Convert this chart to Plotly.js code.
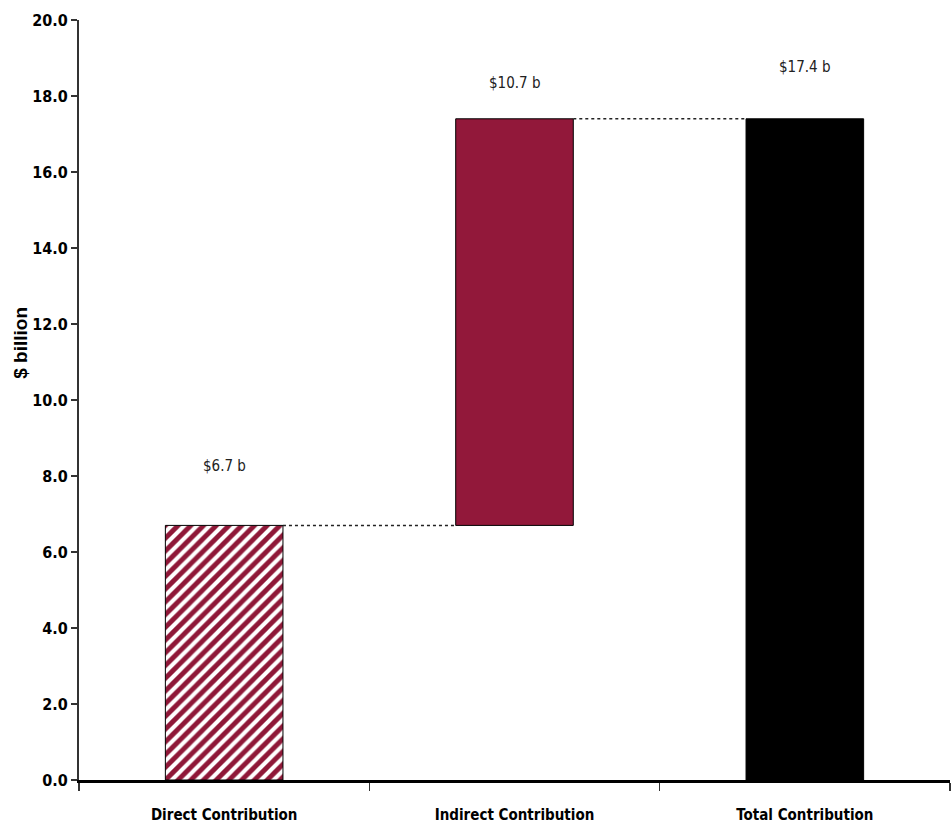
<!DOCTYPE html>
<html>
<head>
<meta charset="utf-8">
<script src="https://cdn.plot.ly/plotly-3.0.1.min.js"></script>
<style>
  html, body { margin: 0; padding: 0; background: #fff; }
  #chart { width: 952px; height: 832px; }
</style>
</head>
<body>
<div id="chart"></div>
<script>
// Contribution waterfall, $ billion
const categories = ['Direct Contribution', 'Indirect Contribution', 'Total Contribution'];
const values = [6.7, 10.7, 17.4];
const bases = [0, 6.7, 0];
const labels = ['$6.7 b', '$10.7 b', '$17.4 b'];

const FONT = '"DejaVu Sans Condensed", "Liberation Sans Narrow", "Arial Narrow", "Liberation Sans", Arial, sans-serif';
const BAR_W = 0.405;

const trace = {
  type: 'bar',
  x: categories,
  y: values,
  base: bases,
  width: BAR_W,
  marker: {
    color: ['#8f1838', '#92183a', '#000000'],
    line: { color: '#000', width: 1 },
    pattern: {
      shape: ['/', '', ''],
      fgcolor: '#ffffff',
      fgopacity: 1,
      bgcolor: '#8f1838',
      size: 9,
      solidity: 0.45,
      fillmode: 'overlay'
    }
  },
  hoverinfo: 'skip'
};

// dotted connectors from each step's top to the next bar
const shapes = [];
for (let i = 0; i < values.length - 1; i++) {
  const level = bases[i] + values[i];
  shapes.push({
    type: 'line', xref: 'x', yref: 'y',
    x0: i + BAR_W / 2, x1: i + 1 - BAR_W / 2,
    y0: level, y1: level,
    line: { color: '#222', width: 1.5, dash: 'dot' }
  });
}

const labelLift = [59, 36, 52];
const annotations = labels.map((t, i) => ({
  x: i, y: bases[i] + values[i], xref: 'x', yref: 'y',
  text: t, showarrow: false,
  yshift: labelLift[i], yanchor: 'middle',
  font: { family: FONT, size: 15, color: '#222' }
}));

// axis title placed as a rotated annotation
annotations.push({
  xref: 'paper', yref: 'paper', x: -0.068, y: 0.575,
  text: '$ billion', textangle: -90, showarrow: false,
  xanchor: 'center', yanchor: 'middle',
  font: { family: '"Liberation Sans", Arial, sans-serif', size: 19, color: '#000', weight: 'bold' }
});

const layout = {
  width: 952, height: 832,
  margin: { l: 79, r: 2, t: 20, b: 52 },
  paper_bgcolor: '#fff', plot_bgcolor: '#fff',
  showlegend: false,
  bargap: 0,
  xaxis: {
    type: 'category',
    range: [-0.5, 2.5],
    tickson: 'boundaries',
    ticks: 'outside', ticklen: 8, tickwidth: 1.5, tickcolor: '#333',
    showline: true, linecolor: '#000', linewidth: 3,
    showgrid: false, zeroline: false,
    ticklabelstandoff: 19,
    tickfont: { family: FONT, size: 15, color: '#000', weight: 'bold' }
  },
  yaxis: {
    range: [0, 20], dtick: 2, tick0: 0, tickformat: '.1f',
    ticks: 'outside', ticklen: 6, tickwidth: 1.5, tickcolor: '#333',
    showline: true, linecolor: '#333', linewidth: 2,
    showgrid: false, zeroline: false,
    tickfont: { family: FONT, size: 16, color: '#000', weight: 'bold' }
  },
  shapes: shapes,
  annotations: annotations
};

Plotly.newPlot('chart', [trace], layout, { displayModeBar: false, staticPlot: true });
</script>
</body>
</html>
